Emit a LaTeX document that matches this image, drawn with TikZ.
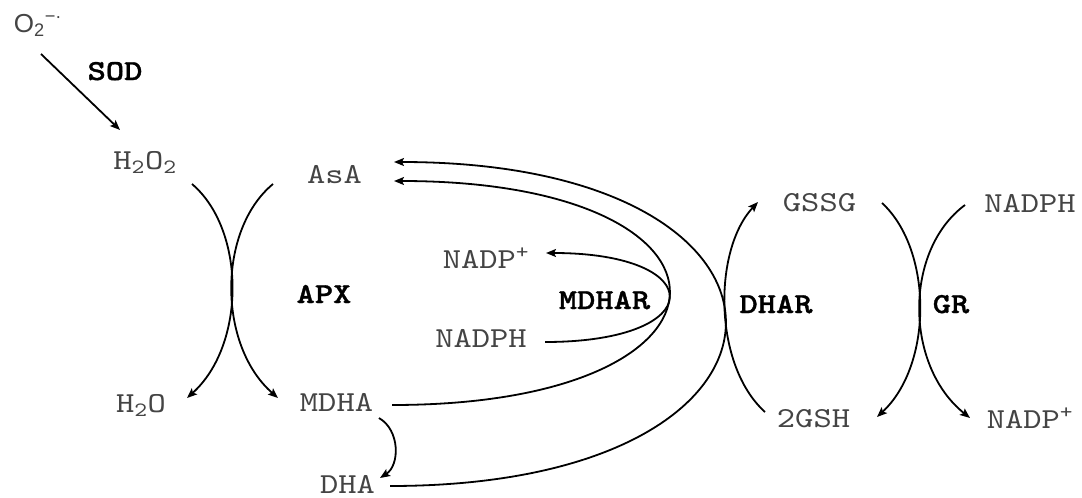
\documentclass[tikz,border=0pt]{standalone}
\usepackage{fontspec}
\usetikzlibrary{arrows.meta}
\newfontfamily\chemfont{lmmono10-regular.otf}[FakeStretch=1.2, BoldFont=lmmonolt10-bold.otf, BoldFeatures={FakeBold=1.2}]
\newfontfamily\chemsans{Liberation Sans}
\definecolor{txtgray}{HTML}{444444}
\begin{document}
\begin{tikzpicture}[x=1pt,y=-1pt,
  lbl/.style={inner sep=0pt, anchor=base, text=txtgray, font=\chemfont\fontsize{29}{29}\selectfont},
  enz/.style={inner sep=0pt, anchor=base, text=black, font=\chemfont\bfseries\fontsize{29}{29}\selectfont},
  conn/.style={line width=1.8pt, -{Stealth[length=10pt,width=8pt,inset=2pt]}}]
\useasboundingbox (0,0) rectangle (1082,498);
% nodes
\node[lbl, font=\chemsans\fontsize{26}{26}\selectfont] (o2) at (38,32) {O\textsubscript{2}\textsuperscript{−·}};
\node[enz] (sod) at (115,80) {SOD};
\node[lbl] (h2o2) at (145,169) {H\textsubscript{2}O\textsubscript{2}};
\node[lbl] (asa) at (334.5,183) {AsA};
\node[enz] (apx) at (324,303) {APX};
\node[lbl] (h2o) at (141,412) {H\textsubscript{2}O};
\node[lbl] (mdha) at (336.5,411) {MDHA};
\node[lbl, text depth=0pt] (dha) at (347.5,493) {DHA};
\node[lbl] (nadpp1) at (486,268) {NADP\textsuperscript{+}};
\node[lbl] (nadph1) at (481,347) {NADPH};
\node[enz] (mdhar) at (604.5,309) {MDHAR};
\node[enz] (dhar) at (776,313) {DHAR};
\node[lbl] (gssg) at (819.5,211) {GSSG};
\node[lbl] (nadph2) at (1030,212) {NADPH};
\node[enz] (gr) at (951,313) {GR};
\node[lbl] (gsh) at (813.5,427) {2GSH};
\node[lbl] (nadpp2) at (1030,428) {NADP\textsuperscript{+}};
% SOD
\draw[conn] ([shift={(3,22)}]o2.base) -- ([shift={(-25,-39)}]h2o2.base);
% APX
\draw[conn] ([shift={(47,15)}]h2o2.base) .. controls (246,230) and (246,345) .. ([shift={(46,-14)}]h2o.base);
\draw[conn] ([shift={(-61.5,1)}]asa.base) .. controls (217.4,230) and (217.4,345) .. ([shift={(-58.5,-13)}]mdha.base);
% MDHA -> DHA
\draw[conn] ([shift={(42.5,7)}]mdha.base) .. controls (400,430) and (400,465) .. ([shift={(32.5,-15)}]dha.base);
% MDHAR
\draw[conn] ([shift={(64,-5)}]nadph1.base) .. controls (710,342) and (710,253) .. ([shift={(60,-15)}]nadpp1.base);
\draw[conn] ([shift={(55.5,-6)}]mdha.base) .. controls (761,405) and (761,181) .. ([shift={(59.5,-2)}]asa.base);
% DHAR
\draw[conn] ([shift={(42.5,-7)}]dha.base) .. controls (836,486) and (836,162) .. ([shift={(59.5,-21)}]asa.base);
\draw[conn] ([shift={(-48.5,-15)}]gsh.base) .. controls (713,365) and (713,250) .. ([shift={(-61.5,-9)}]gssg.base);
% GR
\draw[conn] ([shift={(62.5,-8)}]gssg.base) .. controls (933,250) and (933,365) .. ([shift={(63.5,-10)}]gsh.base);
\draw[conn] ([shift={(-65,-7)}]nadph2.base) .. controls (904,250) and (904,365) .. ([shift={(-60,-10)}]nadpp2.base);
\end{tikzpicture}
\end{document}
